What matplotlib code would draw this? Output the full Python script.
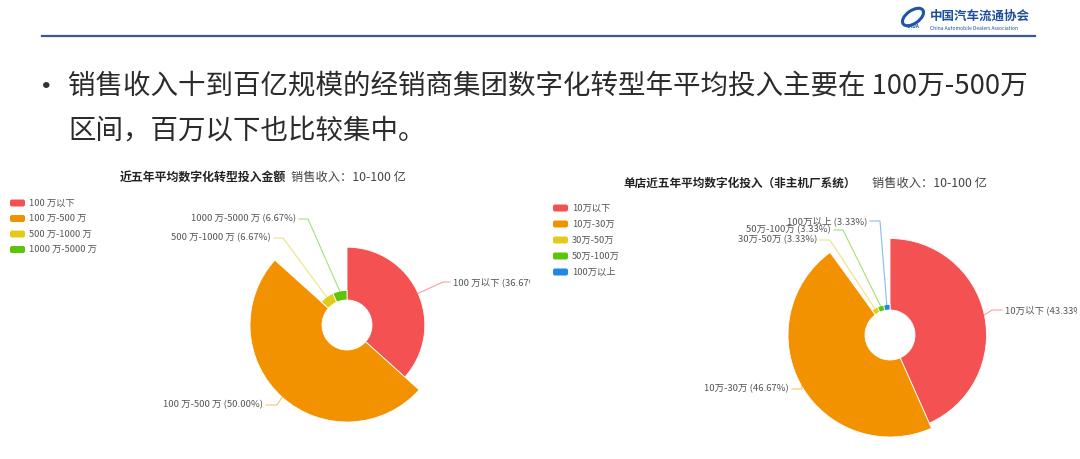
import matplotlib
matplotlib.use("Agg")
import matplotlib.pyplot as plt
from matplotlib.patches import FancyBboxPatch, Ellipse

plt.rcParams['font.family'] = ['Noto Sans CJK SC', 'DejaVu Sans']

W, H = 1080, 459

# %% data
bullet_lines = ["销售收入十到百亿规模的经销商集团数字化转型年平均投入主要在 100万-500万",
                "区间，百万以下也比较集中。"]

left_title = "近五年平均数字化转型投入金额"
left_sub = "销售收入：10-100 亿"
left_names = ["100 万以下", "100 万-500 万", "500 万-1000 万", "1000 万-5000 万"]
left_values = [36.67, 50.00, 6.67, 6.67]

right_title = "单店近五年平均数字化投入（非主机厂系统）"
right_sub = "销售收入：10-100 亿"
right_names = ["10万以下", "10万-30万", "30万-50万", "50万-100万", "100万以上"]
right_values = [43.33, 46.67, 3.33, 3.33, 3.33]

colors = ["#f45252", "#f39200", "#e3cb1b", "#5ec408", "#1e88e5"]

# label elbows (x, y) and line end x, in pixels from top-left
left_label_pos = [(443, 282, 450), (277, 405, 266), (283, 238, 274), (308, 219, 299)]
right_label_pos = [(992, 310, 1002), (802, 389, 792), (830, 240, 820),
                   (843, 230, 834), (880, 221, 870)]


def Y(y):
    return H - y


def panel(x0, y0, x1, y1, fc="white"):
    ax = fig.add_axes([x0 / W, (H - y1) / H, (x1 - x0) / W, (y1 - y0) / H])
    ax.set_facecolor(fc)
    return ax, (x0, x1, H - y1, H - y0)


def finish(ax, lims):
    ax.set_aspect("auto")
    ax.set_xlim(lims[0], lims[1])
    ax.set_ylim(lims[2], lims[3])
    ax.set_xticks([]); ax.set_yticks([])
    for s in ax.spines.values():
        s.set_visible(False)


def rose(ax, values, cx, cy, r0, rmax):
    wedges, _ = ax.pie(values, colors=colors[:len(values)], startangle=90,
                       counterclock=False, center=(cx, Y(cy)), radius=rmax,
                       wedgeprops=dict(width=rmax - r0, edgecolor="white", linewidth=0.6))
    vmax = max(values)
    for w, v in zip(wedges, values):
        r = r0 + (rmax - r0) * v / vmax
        w.set_radius(r)
        w.set_width(r - r0)
    return wedges


def labels(ax, wedges, names, values, pos):
    import numpy as np
    for w, n, v, c, (ex, ey, tx) in zip(wedges, names, values, colors, pos):
        a = np.deg2rad((w.theta1 + w.theta2) / 2)
        sx = w.center[0] + w.r * np.cos(a)
        sy = w.center[1] + w.r * np.sin(a)
        ax.plot([sx, ex, tx], [sy, Y(ey), Y(ey)], color=c, alpha=0.55, lw=0.8)
        if tx < ex:
            ax.text(tx - 3, Y(ey), f"{n} ({v:.2f}%)", ha="right", va="center",
                    fontsize=6.8, color="#555555", clip_on=True)
        else:
            ax.text(tx + 3, Y(ey), f"{n} ({v:.2f}%)", ha="left", va="center",
                    fontsize=6.8, color="#555555", clip_on=True)


def legend(ax, names, x, y0, dy):
    for i, (n, c) in enumerate(zip(names, colors)):
        y = y0 + i * dy
        ax.add_patch(FancyBboxPatch((x, Y(y) - 3.5), 15, 7, boxstyle="round,pad=0,rounding_size=2",
                                    fc=c, ec="none"))
        ax.text(x + 19, Y(y), n, ha="left", va="center", fontsize=6.7, color="#555555")


fig = plt.figure(figsize=(W / 100, H / 100), dpi=100)

# %% slide header
bg = fig.add_axes([0, 0, 1, 1])
bg.set_xlim(0, W); bg.set_ylim(0, H); bg.axis("off")
bg.plot([42, 1035], [Y(36), Y(36)], color="#3b5796", lw=1.6)
bg.add_patch(Ellipse((913, Y(17)), 24, 13, angle=35, fc="none", ec="#1d56a8", lw=2.2))
bg.text(913, Y(27), "CADA", ha="center", va="center", fontsize=3.5, color="#1d56a8",
        fontweight="bold", style="italic")
bg.text(930, Y(16), "中国汽车流通协会", ha="left", va="center", fontsize=9,
        color="#1d4f9c", fontweight="bold")
bg.text(930, Y(28), "China Automobile Dealers Association", ha="left", va="center",
        fontsize=3.6, color="#1d4f9c")

bg.text(46, Y(87), "•", ha="center", va="center", fontsize=22, color="#333333")
bg.text(68, Y(86), bullet_lines[0], ha="left", va="center", fontsize=19.8, color="#2b2b2b")
bg.text(68, Y(131), bullet_lines[1], ha="left", va="center", fontsize=19.8, color="#2b2b2b")

# %% left rose
axl, liml = panel(0, 150, 530, 459)
wl = rose(axl, left_values, 347, 325, 25, 97)
labels(axl, wl, left_names, left_values, left_label_pos)
legend(axl, left_names, 10, 203, 15.5)
axl.text(286, Y(177), left_title, ha="right", va="center", fontsize=8.6,
         fontweight="bold", color="#222222")
axl.text(291, Y(177), left_sub, ha="left", va="center", fontsize=8.8, color="#444444")
finish(axl, liml)

# %% right rose
axr, limr = panel(540, 157, 1077, 452, fc="#fcfcfc")
wr = rose(axr, right_values, 890, 335, 25, 102)
labels(axr, wr, right_names, right_values, right_label_pos)
legend(axr, right_names, 553, 208, 16)
axr.text(856, Y(183), right_title, ha="right", va="center", fontsize=8.4,
         fontweight="bold", color="#222222")
axr.text(872, Y(183), right_sub, ha="left", va="center", fontsize=8.8, color="#444444")
finish(axr, limr)

fig.savefig("out.png", dpi=100)
